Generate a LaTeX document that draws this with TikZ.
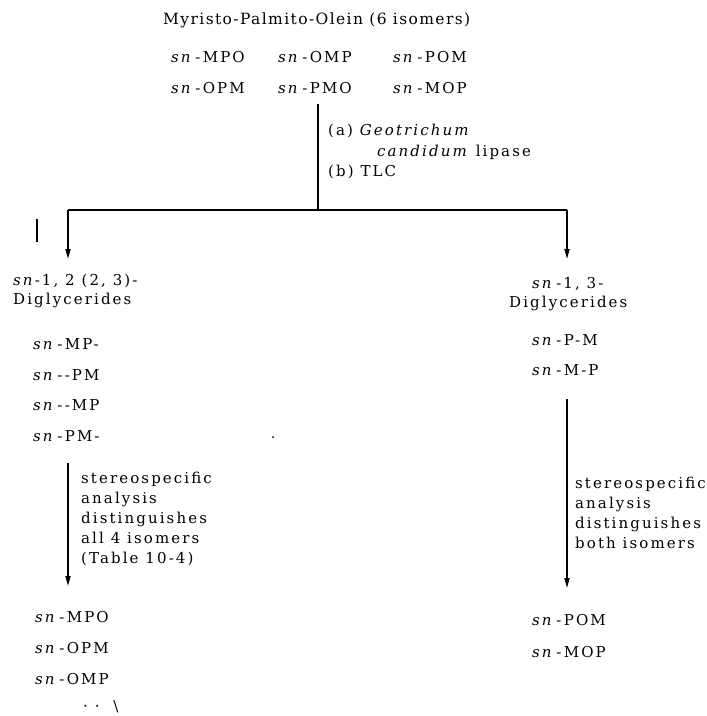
\documentclass[tikz,border=0pt]{standalone}
\usepackage{fontspec}
\setmainfont{DejaVu Serif}[LetterSpace=9]
\newfontfamily\bodyfont{DejaVu Serif}[LetterSpace=14]
\usetikzlibrary{arrows.meta}
\newcommand\snit{\textit{sn}\,-\,}
\tikzset{
  txt/.style={anchor=base west,inner sep=0pt,font=\bodyfont\fontsize{15}{20}\selectfont},
  ttl/.style={anchor=base west,inner sep=0pt,font=\fontsize{15.5}{20}\selectfont},
  note/.style={anchor=north west,inner sep=0pt,align=left,font=\bodyfont\fontsize{15}{20}\selectfont},
  ln/.style={line width=1.6pt},
  arr/.style={line width=1.6pt,-{Triangle[length=10pt,width=5pt]}}
}
\begin{document}
\begin{tikzpicture}[x=1pt,y=-1pt]
\useasboundingbox (0,0) rectangle (707,716);
% title and isomers
\node[ttl] (title) at (163,24) {Myristo-Palmito-Olein (6 isomers)};
\node[txt] (mpo) at (171,62) {\snit MPO};
\node[txt] (omp) at (278,62) {\snit OMP};
\node[txt] (pom) at (393,62) {\snit POM};
\node[txt] (opm) at (171,93) {\snit OPM};
\node[txt] (pmo) at (278,93) {\snit PMO};
\node[txt] (mop) at (393,93) {\snit MOP};
% lipase step
\coordinate (top) at (318,104);
\coordinate (jn) at (318,210);
\coordinate (jl) at (68,210);
\coordinate (jr) at (567,210);
\coordinate (la) at (68,259);
\coordinate (ra) at (567,259);
\draw[ln] (top) -- (jn);
\draw[ln] (jl) -- (jr);
\draw[arr] (jl) -- (la);
\draw[arr] (jr) -- (ra);
\node[txt] (a) at (328,135) {(a) \textit{Geotrichum}};
\node[txt] (a2) at (377,156) {\textit{candidum} lipase};
\node[txt] (b) at (328,176) {(b) TLC};
% stray tick
\coordinate (t1) at (37,219);
\coordinate (t2) at (37,242);
\draw[line width=1.4pt] (t1) -- (t2);
% left branch
\node[txt] (l1) at (13,285) {\textit{sn}-1, 2 (2, 3)-};
\node[txt] (l2) at (13,304) {Diglycerides};
\node[txt] (lmp) at (33,349) {\snit MP-};
\node[txt] (lpm) at (33,380) {\snit -PM};
\node[txt] (lmp2) at (33,410) {\snit -MP};
\node[txt] (lpm2) at (33,441) {\snit PM-};
\coordinate (ls) at (68,463);
\coordinate (le) at (68,586);
\draw[arr] (ls) -- (le);
\node[note] (lnote) at (81,472) {stereospecific\\analysis\\distinguishes\\all 4 isomers\\(Table 10-4)};
\node[txt] (r1) at (35,622) {\snit MPO};
\node[txt] (r2) at (35,653) {\snit OPM};
\node[txt] (r3) at (35,684) {\snit OMP};
\node[txt] (r4) at (83,711) {· ·\ \ \textbackslash};
% speck
\fill (273,437) circle (1pt);
% right branch
\node[txt] (rr1) at (532,288) {\textit{sn}\,-1, 3-};
\node[txt] (rr2) at (509,307) {Diglycerides};
\node[txt] (rpm) at (532,345) {\snit P-M};
\node[txt] (rmp) at (532,375) {\snit M-P};
\coordinate (rs) at (567,399);
\coordinate (re) at (567,588);
\draw[arr] (rs) -- (re);
\node[note] (rnote) at (575,477) {stereospecific\\analysis\\distinguishes\\both isomers};
\node[txt] (rr3) at (532,625) {\snit POM};
\node[txt] (rr4) at (532,657) {\snit MOP};
\end{tikzpicture}
\end{document}
